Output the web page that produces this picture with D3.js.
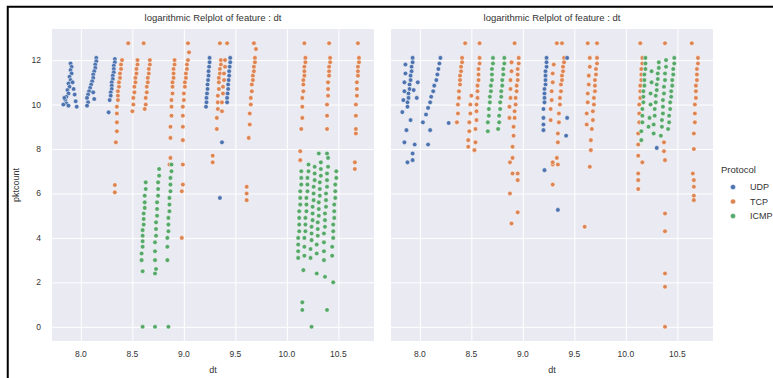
<!DOCTYPE html>
<html>
<head>
<meta charset="utf-8">
<script src="https://cdn.jsdelivr.net/npm/d3@7"></script>
<style>
  html, body { margin: 0; padding: 0; background: #fff; }
  svg { display: block; font-family: "Liberation Sans", Arial, sans-serif; }
</style>
</head>
<body>
<svg id="chart" width="773" height="378"></svg>
<script>
// Protocol order and palette (seaborn "deep")
const protocols = ["UDP", "TCP", "ICMP"];
const protocolColors = ["#4C72B0", "#DD8452", "#55A868"];

const xTicks = [8.0, 8.5, 9.0, 9.5, 10.0, 10.5];
const xTickLabels = ["8.0", "8.5", "9.0", "9.5", "10.0", "10.5"];
const yTicks = [0, 2, 4, 6, 8, 10, 12];
const yTickLabels = ["0", "2", "4", "6", "8", "10", "12"];

const panelTitles = ["logarithmic Relplot of feature : dt", "logarithmic Relplot of feature : dt"];

// ---- left facet: [dt, pktcount] (log scale values) ----
const leftUDP = [
  [7.90,11.85],[7.91,11.7],[7.90,11.55],[7.91,11.4],[7.89,11.25],[7.90,11.1],[7.88,10.95],[7.89,10.8],
  [7.87,10.65],[7.88,10.5],[7.86,10.35],[7.85,10.2],[7.86,10.05],[7.93,10.7],[7.94,10.45],[7.95,10.15],
  [7.96,9.9],[7.88,9.95],[7.92,11.0],[7.84,10.3],[7.83,10.0],
  [8.15,12.1],[8.15,11.95],[8.14,11.8],[8.14,11.65],[8.13,11.5],[8.12,11.35],[8.12,11.2],[8.11,11.05],
  [8.10,10.9],[8.09,10.75],[8.08,10.6],[8.07,10.45],[8.06,10.3],[8.07,10.1],[8.06,9.95],[8.12,10.55],[8.13,10.25],
  [8.33,12.05],[8.33,11.9],[8.32,11.75],[8.32,11.6],[8.32,11.45],[8.31,11.3],[8.31,11.15],[8.30,11.0],
  [8.30,10.85],[8.30,10.7],[8.29,10.55],[8.29,10.4],[8.28,10.2],[8.27,9.65],
  [9.25,12.1],[9.25,11.9],[9.245,11.7],[9.24,11.5],[9.24,11.3],[9.235,11.1],[9.23,10.9],[9.23,10.7],
  [9.225,10.5],[9.22,10.3],[9.22,10.1],[9.215,9.9],
  [9.45,12.1],[9.45,11.9],[9.445,11.7],[9.44,11.5],[9.44,11.3],[9.435,11.1],[9.43,10.9],[9.43,10.7],
  [9.425,10.5],[9.42,10.3],[9.42,10.1],
  [9.37,8.3],[9.35,5.8]
];
const leftTCP = [
  [8.46,12.76],[8.61,12.76],
  [8.40,12.0],[8.39,11.8],[8.39,11.6],[8.38,11.4],[8.38,11.2],[8.37,11.0],[8.37,10.8],[8.36,10.6],
  [8.36,10.4],[8.36,10.2],[8.35,9.9],[8.35,9.6],[8.35,9.2],[8.35,8.8],[8.34,8.3],[8.33,6.38],[8.33,6.05],
  [8.55,12.0],[8.55,11.8],[8.54,11.6],[8.54,11.4],[8.53,11.2],[8.53,11.0],[8.52,10.8],[8.52,10.55],
  [8.51,10.3],[8.51,10.0],[8.50,9.7],
  [8.67,12.0],[8.67,11.8],[8.66,11.6],[8.66,11.4],[8.65,11.2],[8.65,11.0],[8.64,10.8],[8.64,10.55],
  [8.63,10.3],[8.63,10.0],[8.62,9.8],
  [8.91,12.0],[8.91,11.8],[8.90,11.6],[8.90,11.4],[8.90,11.2],[8.89,11.0],[8.89,10.8],[8.89,10.5],
  [8.88,10.2],[8.88,9.9],[8.88,9.5],[8.87,9.0],[8.87,8.5],[8.87,7.6],[8.86,7.3],
  [9.04,12.76],[9.05,12.35],[9.04,12.0],[9.03,11.8],[9.03,11.6],[9.02,11.4],[9.02,11.2],[9.01,11.0],
  [9.01,10.8],[9.00,10.5],[9.00,10.2],[8.99,9.9],[8.99,9.5],[8.99,9.0],[8.99,8.4],[8.99,7.3],[8.99,6.4],
  [8.98,6.1],[8.98,4.0],
  [9.35,12.76],[9.42,12.76],[9.36,12.0],[9.36,11.8],[9.35,11.6],[9.35,11.4],[9.34,11.2],[9.34,11.0],
  [9.34,10.7],[9.33,10.4],[9.33,10.1],[9.33,9.8],[9.32,9.4],[9.32,8.9],[9.28,7.7],[9.28,7.4],
  [9.40,12.0],[9.40,11.7],[9.39,11.4],[9.39,11.1],[9.38,10.8],[9.38,10.5],[9.37,10.1],[9.37,9.7],
  [9.68,12.76],[9.70,12.5],[9.69,12.1],[9.69,11.9],[9.68,11.7],[9.68,11.5],[9.67,11.3],[9.67,11.1],
  [9.66,10.9],[9.66,10.6],[9.65,10.3],[9.65,10.0],[9.64,9.6],[9.64,9.1],[9.63,8.5],[9.61,6.3],[9.61,6.0],[9.61,5.7],
  [10.17,12.76],[10.18,12.1],[10.18,11.9],[10.17,11.7],[10.17,11.5],[10.17,11.3],[10.16,11.1],[10.16,10.9],
  [10.16,10.6],[10.15,10.3],[10.15,9.9],[10.15,9.4],[10.14,8.9],[10.13,7.9],[10.13,7.5],
  [10.41,12.76],[10.42,12.1],[10.42,11.9],[10.41,11.7],[10.41,11.5],[10.41,11.3],[10.40,11.0],[10.40,10.7],
  [10.40,10.4],[10.39,10.0],[10.39,9.5],[10.39,8.9],
  [10.69,12.76],[10.70,12.1],[10.70,11.9],[10.69,11.7],[10.69,11.5],[10.69,11.3],[10.68,11.0],[10.68,10.7],
  [10.68,10.4],[10.67,10.0],[10.67,9.5],[10.67,8.9],[10.67,8.7],[10.66,7.4],[10.66,7.1]
];
const leftICMP = [
  [8.63,6.5],[8.63,6.2],[8.62,5.9],[8.62,5.6],[8.62,5.35],[8.61,5.1],[8.61,4.85],[8.61,4.6],[8.60,4.35],
  [8.60,4.1],[8.60,3.85],[8.60,3.6],[8.59,3.3],[8.59,3.0],[8.60,2.5],[8.60,0],
  [8.76,7.1],[8.76,6.8],[8.75,6.5],[8.75,6.2],[8.75,5.9],[8.74,5.6],[8.74,5.3],[8.74,5.0],[8.73,4.7],
  [8.73,4.4],[8.73,4.1],[8.72,3.8],[8.72,3.4],[8.72,3.0],[8.73,2.6],[8.72,2.4],[8.72,0],
  [8.88,7.3],[8.88,7.0],[8.87,6.7],[8.87,6.4],[8.87,6.1],[8.86,5.8],[8.86,5.5],[8.86,5.2],[8.85,4.9],
  [8.85,4.6],[8.85,4.3],[8.84,4.0],[8.84,3.6],[8.84,3.0],[8.85,0],
  [10.14,7.0],[10.14,6.7],[10.14,6.4],[10.13,6.1],[10.13,5.8],[10.13,5.5],[10.12,5.2],[10.12,4.9],[10.12,4.6],
  [10.12,4.3],[10.11,4.0],[10.11,3.7],[10.11,3.4],[10.11,3.1],
  [10.21,7.3],[10.21,7.0],[10.20,6.7],[10.20,6.4],[10.20,6.1],[10.19,5.8],[10.19,5.5],[10.19,5.2],[10.18,4.9],
  [10.18,4.6],[10.18,4.3],[10.17,4.0],[10.17,3.6],[10.17,3.2],
  [10.27,7.2],[10.27,6.9],[10.27,6.6],[10.26,6.3],[10.26,6.0],[10.26,5.7],[10.25,5.4],[10.25,5.1],[10.25,4.8],
  [10.24,4.5],[10.24,4.2],[10.24,3.9],[10.23,3.5],[10.23,3.1],
  [10.33,7.4],[10.33,7.1],[10.33,6.8],[10.32,6.5],[10.32,6.2],[10.32,5.9],[10.31,5.6],[10.31,5.3],[10.31,5.0],
  [10.30,4.7],[10.30,4.4],[10.30,4.1],[10.29,3.7],[10.29,3.3],
  [10.40,7.6],[10.40,7.2],[10.39,6.9],[10.39,6.6],[10.39,6.3],[10.38,6.0],[10.38,5.7],[10.38,5.4],[10.37,5.1],
  [10.37,4.8],[10.37,4.5],[10.36,4.2],[10.36,3.8],[10.36,3.4],[10.36,3.0],
  [10.48,7.0],[10.48,6.7],[10.47,6.4],[10.47,6.1],[10.47,5.8],[10.46,5.5],[10.46,5.2],[10.46,4.9],[10.45,4.6],
  [10.45,4.3],[10.45,4.0],[10.44,3.6],[10.44,3.2],
  [10.31,7.8],[10.39,7.8],
  [10.16,2.55],[10.29,2.4],[10.37,2.25],[10.45,2.0],[10.15,1.1],[10.15,0.76],[10.39,0.76],[10.24,0]
];

// ---- right facet ----
const rightUDP = [
  [7.93,12.1],[7.93,11.9],[7.92,11.7],[7.92,11.5],[7.91,11.3],[7.91,11.1],[7.90,10.9],[7.90,10.7],
  [7.89,10.5],[7.89,10.3],[7.88,10.1],[7.88,9.9],
  [7.86,11.8],[7.86,11.4],[7.85,11.0],[7.85,10.6],[7.84,10.2],
  [7.98,11.0],[7.94,10.65],[7.83,9.66],[7.97,10.3],[7.91,9.3],[7.87,8.85],[7.85,8.3],[7.95,8.2],
  [7.93,7.8],[7.93,7.5],[7.88,7.4],
  [8.20,12.1],[8.19,11.85],[8.18,11.6],[8.17,11.35],[8.16,11.1],[8.14,10.85],[8.13,10.6],[8.11,10.35],
  [8.10,10.1],[8.08,9.85],[8.06,9.55],[8.03,9.2],[8.10,8.85],[8.08,8.2],[8.28,9.17],
  [9.23,12.1],[9.23,11.9],[9.23,11.7],[9.22,11.5],[9.22,11.3],[9.22,11.1],[9.22,10.9],[9.21,10.7],
  [9.21,10.5],[9.21,10.3],[9.21,10.1],[9.20,9.8],[9.20,9.4],[9.20,9.1],[9.20,8.85],[9.21,7.05],
  [9.34,5.26],[9.43,12.1],[9.43,9.4],[9.42,8.6],
  [10.30,8.05]
];
const rightTCP = [
  [8.44,12.76],[8.41,12.1],[8.41,11.9],[8.40,11.7],[8.40,11.5],[8.39,11.3],[8.39,11.1],[8.39,10.9],
  [8.38,10.6],[8.38,10.3],[8.37,10.0],[8.37,9.6],[8.36,9.2],
  [8.50,10.4],[8.49,10.0],[8.49,9.6],[8.48,9.2],[8.48,8.8],[8.47,8.4],[8.47,8.1],
  [8.58,12.76],[8.58,12.1],[8.58,11.85],[8.57,11.6],[8.57,11.35],[8.57,11.1],[8.56,10.85],[8.56,10.6],
  [8.56,10.3],[8.55,10.0],[8.55,9.7],[8.55,9.3],[8.54,8.9],[8.54,8.3],[8.53,7.95],
  [8.92,12.76],[8.96,12.1],[8.96,11.85],[8.95,11.6],[8.95,11.35],[8.95,11.1],[8.94,10.85],[8.94,10.6],
  [8.93,10.3],[8.93,10.0],[8.92,9.7],[8.92,9.4],[8.91,9.0],[8.91,8.6],[8.90,8.1],[8.90,7.6],[8.90,6.9],
  [8.89,11.9],[8.89,11.5],[8.88,11.1],[8.88,10.7],[8.88,10.3],[8.87,9.9],[8.87,9.4],
  [8.875,7.4],[8.875,6.0],[8.95,6.9],[8.95,6.6],[8.95,5.15],[8.89,4.65],
  [9.33,12.76],[9.38,12.76],[9.40,12.1],[9.40,11.9],[9.39,11.7],[9.39,11.5],[9.38,11.3],[9.38,11.1],
  [9.37,10.9],[9.37,10.6],[9.36,10.3],[9.36,10.0],[9.35,9.6],[9.35,9.2],[9.34,8.7],[9.34,8.3],
  [9.30,11.8],[9.29,11.4],[9.29,11.0],[9.28,10.6],[9.28,10.2],[9.27,9.8],[9.27,9.3],
  [9.29,7.3],[9.34,7.3],[9.29,6.4],[9.33,7.6],[9.29,7.4],
  [9.63,12.76],[9.72,12.76],[9.72,12.1],[9.72,11.85],[9.71,11.6],[9.71,11.35],[9.70,11.1],[9.70,10.85],
  [9.70,10.6],[9.69,10.3],[9.69,10.0],[9.68,9.7],[9.68,9.3],[9.67,8.9],[9.66,8.4],[9.66,7.95],
  [9.65,12.1],[9.65,11.7],[9.64,11.3],[9.64,10.9],[9.63,10.5],[9.63,10.1],[9.62,9.6],[9.62,9.1],
  [9.65,7.2],[9.60,4.5],
  [10.14,12.76],[10.16,12.1],[10.16,11.85],[10.15,11.6],[10.15,11.35],[10.15,11.1],[10.14,10.85],[10.14,10.6],
  [10.14,10.3],[10.13,10.0],[10.13,9.6],[10.13,9.2],[10.12,8.7],[10.12,8.2],[10.12,7.7],
  [10.12,6.9],[10.12,6.6],[10.12,6.2],[10.16,7.4],
  [10.38,12.76],[10.37,8.3],[10.37,7.9],[10.38,7.5],[10.38,5.1],[10.38,4.3],[10.38,2.4],[10.38,1.8],[10.38,0],
  [10.64,12.76],[10.70,12.1],[10.70,11.85],[10.69,11.6],[10.69,11.35],[10.69,11.1],[10.68,10.85],[10.68,10.6],
  [10.68,10.3],[10.67,10.0],[10.67,9.6],[10.67,9.2],[10.66,8.7],[10.66,8.0],
  [10.65,6.9],[10.66,6.6],[10.66,6.3],[10.66,5.9],[10.66,5.7]
];
const rightICMP = [
  [8.71,12.1],[8.71,11.85],[8.70,11.6],[8.70,11.35],[8.70,11.1],[8.69,10.85],[8.69,10.6],[8.68,10.35],
  [8.68,10.1],[8.67,9.8],[8.67,9.5],[8.66,9.2],[8.66,8.8],
  [8.82,12.1],[8.82,11.85],[8.81,11.6],[8.81,11.35],[8.80,11.1],[8.80,10.85],[8.79,10.6],[8.79,10.35],
  [8.78,10.1],[8.78,9.8],[8.77,9.5],[8.77,9.2],[8.76,8.9],
  [10.19,12.1],[10.19,11.85],[10.19,11.6],[10.18,11.35],[10.18,11.1],[10.18,10.85],[10.17,10.6],[10.17,10.35],
  [10.17,10.1],[10.16,9.8],[10.16,9.5],[10.16,9.2],[10.15,8.8],[10.15,8.4],
  [10.32,11.9],[10.32,11.65],[10.31,11.4],[10.31,11.15],[10.30,10.9],[10.30,10.65],[10.29,10.4],[10.29,10.1],
  [10.28,9.8],[10.28,9.5],[10.27,9.1],[10.27,8.7],
  [10.47,12.1],[10.47,11.85],[10.46,11.6],[10.46,11.35],[10.45,11.1],[10.45,10.85],[10.44,10.6],[10.44,10.35],
  [10.43,10.1],[10.43,9.8],[10.42,9.5],[10.42,9.2],[10.41,8.9],
  [10.39,12.0],[10.39,11.7],[10.38,11.4],[10.38,11.1],[10.37,10.8],[10.37,10.5],[10.36,10.2],[10.36,9.9],
  [10.36,9.6],[10.35,9.3],[10.35,9.0],[10.34,8.6],
  [10.25,11.5],[10.25,11.0],[10.24,10.5],[10.24,10.0],[10.23,9.4],[10.22,9.0]
];

// Data grouped per facet, keyed by protocol
const facets = [
  { title: panelTitles[0], series: { UDP: leftUDP, TCP: leftTCP, ICMP: leftICMP } },
  { title: panelTitles[1], series: { UDP: rightUDP, TCP: rightTCP, ICMP: rightICMP } }
];

const svg = d3.select("#chart");
const textColor = "#333";
const color = d3.scaleOrdinal().domain(protocols).range(protocolColors);

const panelLeft = [52, 391];
const panelWidth = 322;
const plotTop = 29, plotBottom = 341;

const y = d3.scaleLinear().domain([-0.638, 13.4]).range([plotBottom, plotTop]);

// drawing order: TCP underneath, then ICMP, then UDP on top
const drawOrder = ["TCP", "ICMP", "UDP"];

facets.forEach((facet, i) => {
  const x0 = panelLeft[i];
  const x = d3.scaleLinear().domain([7.72, 10.846]).range([x0, x0 + panelWidth]);
  const g = svg.append("g");

  g.append("rect")
    .attr("x", x0).attr("y", plotTop)
    .attr("width", panelWidth).attr("height", plotBottom - plotTop)
    .attr("fill", "#EAEAF2");

  // grid via axes with full-length ticks
  const xAxis = d3.axisBottom(x).tickValues(xTicks).tickSize(-(plotBottom - plotTop)).tickFormat("");
  const yAxis = d3.axisLeft(y).tickValues(yTicks).tickSize(-panelWidth).tickFormat("");
  const gx = g.append("g").attr("transform", `translate(0,${plotBottom})`).call(xAxis);
  const gy = g.append("g").attr("transform", `translate(${x0},0)`).call(yAxis);
  [gx, gy].forEach(a => {
    a.select(".domain").remove();
    a.selectAll("line").attr("stroke", "#fff").attr("stroke-width", 1);
  });

  // tick labels
  g.selectAll(".xtl").data(xTicks).join("text")
    .attr("x", d => x(d)).attr("y", 357)
    .attr("text-anchor", "middle").attr("font-size", 8.5).attr("fill", textColor)
    .text((d, k) => xTickLabels[k]);

  if (i === 0) {
    g.selectAll(".ytl").data(yTicks).join("text")
      .attr("x", 41).attr("y", d => y(d)).attr("dy", "0.35em")
      .attr("text-anchor", "end").attr("font-size", 8.5).attr("fill", textColor)
      .text((d, k) => yTickLabels[k]);
    g.append("text")
      .attr("transform", `translate(19,${(plotTop + plotBottom) / 2}) rotate(-90)`)
      .attr("text-anchor", "middle").attr("font-size", 9).attr("fill", textColor)
      .text("pktcount");
  }

  g.append("text")
    .attr("x", x0 + panelWidth / 2).attr("y", 373)
    .attr("text-anchor", "middle").attr("font-size", 9).attr("fill", textColor)
    .text("dt");

  g.append("text")
    .attr("x", x0 + panelWidth / 2).attr("y", 21)
    .attr("text-anchor", "middle").attr("font-size", 9.5).attr("fill", textColor)
    .text(facet.title);

  // points
  drawOrder.forEach(p => {
    g.append("g").selectAll("circle").data(facet.series[p]).join("circle")
      .attr("cx", d => x(d[0])).attr("cy", d => y(d[1]))
      .attr("r", 2.3)
      .attr("fill", color(p))
      .attr("stroke", "#fff").attr("stroke-width", 0.5);
  });
});

// legend
const legend = svg.append("g");
legend.append("text").attr("x", 721).attr("y", 173)
  .attr("font-size", 9.5).attr("fill", textColor).text("Protocol");
protocols.forEach((p, k) => {
  const cy = 187 + k * 14.5;
  legend.append("circle").attr("cx", 733).attr("cy", cy).attr("r", 2.6)
    .attr("fill", color(p)).attr("stroke", "#fff").attr("stroke-width", 0.5);
  legend.append("text").attr("x", 750).attr("y", cy + 3)
    .attr("font-size", 9).attr("fill", textColor).text(p);
});

// frame lines along the top and left edges
svg.append("path")
  .attr("d", "M7.75,378 V6.75 H773")
  .attr("fill", "none").attr("stroke", "#000").attr("stroke-width", 2);
</script>
</body>
</html>
